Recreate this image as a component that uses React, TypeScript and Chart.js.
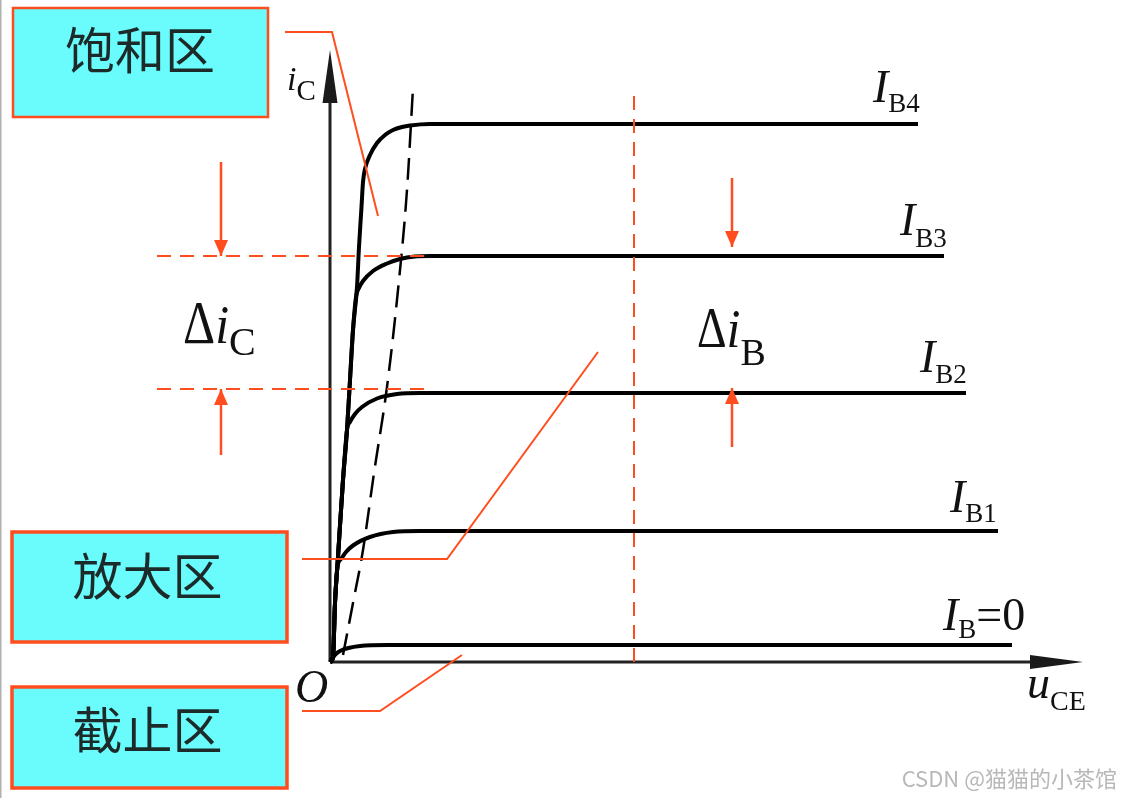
import React, { useEffect, useRef } from "react";
import { Chart, registerables } from "chart.js";
Chart.register(...registerables);

// ---- axis extents (uCE, iC in arbitrary units) ----
const X_MIN = -6.6;
const X_MAX = 15.84;
const Y_MIN = -2.72;
const Y_MAX = 13.24;

// ---- output characteristic curves [uCE, iC] ----
const IB4: number[][] = [
  [0, 0], [0.06, 0.1], [0.1, 1.18], [0.16, 2.1], [0.26, 3.64], [0.34, 4.64], [0.4, 5.64],
  [0.46, 6.64], [0.54, 7.5], [0.58, 8.3], [0.63, 9.1], [0.66, 9.6], [0.7, 9.86],
  [0.8, 10.14], [0.94, 10.38], [1.1, 10.54], [1.26, 10.64], [1.44, 10.7], [1.6, 10.73],
  [2.0, 10.76], [11.76, 10.76],
];
const IB3: number[][] = [
  [0, 0], [0.06, 0.1], [0.1, 1.18], [0.16, 2.1], [0.26, 3.64], [0.34, 4.64], [0.4, 5.64],
  [0.46, 6.64], [0.52, 7.3], [0.58, 7.48], [0.66, 7.62], [0.86, 7.82], [1.14, 7.97],
  [1.4, 8.06], [1.7, 8.11], [2.0, 8.12], [12.28, 8.12],
];
const IB2: number[][] = [
  [0, 0], [0.06, 0.1], [0.1, 1.18], [0.16, 2.1], [0.26, 3.64], [0.34, 4.64], [0.4, 4.8],
  [0.5, 4.96], [0.64, 5.1], [0.94, 5.27], [1.34, 5.36], [1.8, 5.38], [12.72, 5.38],
];
const IB1: number[][] = [
  [0, 0], [0.06, 0.1], [0.1, 1.18], [0.15, 1.9], [0.22, 2.06], [0.32, 2.2], [0.46, 2.33],
  [0.8, 2.5], [1.26, 2.6], [1.8, 2.62], [13.36, 2.62],
];
const IB0: number[][] = [[0, 0], [0.1, 0.14], [0.2, 0.22], [0.6, 0.32], [1.14, 0.34], [13.64, 0.34]];
const CURVES = [IB4, IB3, IB2, IB1, IB0];

// saturation boundary (uCE = uBE) dashed line
const BOUNDARY: number[][] = [
  [0.26, 0.14], [0.46, 1.18], [0.66, 2.24], [0.88, 3.78], [1.14, 5.5], [1.36, 7.44],
  [1.54, 9.44], [1.66, 11.48],
];

// curve labels: [main, subscript, tail]
const CURVE_LABEL_TEXT = [["I", "B4", ""], ["I", "B3", ""], ["I", "B2", ""], ["I", "B1", ""], ["I", "B", "=0"]];
const CURVE_LABEL_X = [10.86, 11.4, 11.8, 12.4, 12.26];
const CURVE_LABEL_Y = [11.2, 8.54, 5.8, 3.0, 0.64];
const CURVE_LABEL_SUB_Y = [11.0, 8.3, 5.58, 2.8, 0.48];

// Δ levels
const DELTA_IC_LEVELS = [8.12, 5.46];
const DELTA_IC_X_RANGE = [-3.46, 1.96];
const DELTA_IB_X = 6.08;
const DELTA_IB_Y_RANGE = [0, 11.48];
const RED_ARROW_X = [-2.18, -2.18, 8.04, 8.04];
const RED_ARROW_FROM = [10.0, 4.14, 9.68, 4.3];
const RED_ARROW_TO = [8.12, 5.46, 8.3, 5.48];

// region boxes
const REGION_NAMES = ["饱和区", "放大区", "截止区"];
const REGION_X0 = [-6.34, -6.36, -6.36];
const REGION_X1 = [-1.24, -0.86, -0.86];
const REGION_Y0 = [13.08, 2.6, -0.5];
const REGION_Y1 = [10.9, 0.4, -2.52];
const REGION_TEXT_X = [-3.8, -3.65, -3.65];
const REGION_TEXT_Y = [12.25, 1.73, -1.35];
const REGION_LEADERS: number[][][] = [
  [[-0.9, 12.6], [0.04, 12.6], [0.96, 8.92]],
  [[-0.56, 2.06], [2.34, 2.06], [5.36, 6.2]],
  [[-0.56, -0.98], [1.0, -0.98], [2.64, 0.14]],
];

const AXIS_Y_TIP = 12.24;
const AXIS_X_TIP = 15.06;

const RED = "#ff4d1f";
const SERIF = '"Liberation Serif", "DejaVu Serif", serif';
const CJK = '"Noto Sans CJK SC", sans-serif';

const pts = (a: number[][]) => a.map(([x, y]) => ({ x, y }));

const annotPlugin = {
  id: "annot",
  beforeDatasetsDraw(chart: any) {
    const ctx = chart.ctx as CanvasRenderingContext2D;
    const X = (v: number) => chart.scales.x.getPixelForValue(v);
    const Y = (v: number) => chart.scales.y.getPixelForValue(v);
    ctx.save();
    // thin page border at left
    ctx.strokeStyle = "#b0b0b0";
    ctx.lineWidth = 1.5;
    ctx.beginPath();
    ctx.moveTo(X(X_MIN) + 0.75, Y(Y_MAX));
    ctx.lineTo(X(X_MIN) + 0.75, Y(Y_MIN));
    ctx.stroke();
    // region boxes
    REGION_NAMES.forEach((name, i) => {
      const x0 = X(REGION_X0[i]), x1 = X(REGION_X1[i]);
      const y0 = Y(REGION_Y0[i]), y1 = Y(REGION_Y1[i]);
      ctx.fillStyle = "#6afcfc";
      ctx.fillRect(x0, y0, x1 - x0, y1 - y0);
      ctx.strokeStyle = RED;
      ctx.lineWidth = i === 0 ? 2.5 : 3.5;
      ctx.strokeRect(x0, y0, x1 - x0, y1 - y0);
      ctx.fillStyle = "#1c2a2a";
      ctx.font = `50px ${CJK}`;
      ctx.textAlign = "center";
      ctx.textBaseline = "middle";
      ctx.fillText(name, X(REGION_TEXT_X[i]), Y(REGION_TEXT_Y[i]));
    });
    ctx.restore();
  },
  afterDatasetsDraw(chart: any) {
    const ctx = chart.ctx as CanvasRenderingContext2D;
    const X = (v: number) => chart.scales.x.getPixelForValue(v);
    const Y = (v: number) => chart.scales.y.getPixelForValue(v);
    const head = (tx: number, ty: number, dx: number, dy: number, len: number, half: number, color: string) => {
      const nx = -dy, ny = dx;
      ctx.fillStyle = color;
      ctx.beginPath();
      ctx.moveTo(tx, ty);
      ctx.lineTo(tx - dx * len + nx * half, ty - dy * len + ny * half);
      ctx.lineTo(tx - dx * len - nx * half, ty - dy * len - ny * half);
      ctx.closePath();
      ctx.fill();
    };
    ctx.save();
    // axis arrowheads
    head(X(0), Y(AXIS_Y_TIP), 0, -1, 53, 7.5, "#1a1a1a");
    head(X(AXIS_X_TIP), Y(0), 1, 0, 53, 7, "#1a1a1a");
    // red arrowheads
    RED_ARROW_X.forEach((ax, i) => {
      const dir = RED_ARROW_TO[i] < RED_ARROW_FROM[i] ? 1 : -1;
      head(X(ax), Y(RED_ARROW_TO[i]), 0, dir, 16, 7, RED);
    });

    type Part = { t: string; font: string; y: number; sy?: number };
    const group = (x: number, parts: Part[]) => {
      let cx = x;
      for (const p of parts) {
        ctx.font = p.font;
        const w = ctx.measureText(p.t).width;
        ctx.save();
        ctx.translate(cx, p.y);
        ctx.scale(1, p.sy || 1);
        ctx.fillText(p.t, 0, 0);
        ctx.restore();
        cx += w;
      }
    };
    ctx.fillStyle = "#111";
    ctx.textAlign = "left";
    ctx.textBaseline = "alphabetic";
    // curve labels
    CURVE_LABEL_TEXT.forEach(([m, s, tail], i) => {
      const parts: Part[] = [
        { t: m, font: `italic 46px ${SERIF}`, y: Y(CURVE_LABEL_Y[i]) },
        { t: s, font: `27px ${SERIF}`, y: Y(CURVE_LABEL_SUB_Y[i]) },
      ];
      if (tail) parts.push({ t: tail, font: `46px ${SERIF}`, y: Y(CURVE_LABEL_Y[i]) });
      group(X(CURVE_LABEL_X[i]), parts);
    });
    // axis labels
    group(X(-0.86), [
      { t: "i", font: `italic 34px ${SERIF}`, y: Y(11.44) },
      { t: "C", font: `29px ${SERIF}`, y: Y(11.24) },
    ]);
    group(X(13.94), [
      { t: "u", font: `italic 46px ${SERIF}`, y: Y(-0.72) },
      { t: "CE", font: `28px ${SERIF}`, y: Y(-0.96) },
    ]);
    group(X(-0.7), [{ t: "O", font: `italic 46px ${SERIF}`, y: Y(-0.8) }]);
    // delta labels
    group(X(-2.94), [
      { t: "Δ", font: `50px ${SERIF}`, y: Y(6.38), sy: 1.22 },
      { t: "i", font: `italic 50px ${SERIF}`, y: Y(6.38), sy: 1.1 },
      { t: "C", font: `40px ${SERIF}`, y: Y(6.14) },
    ]);
    group(X(7.34), [
      { t: "Δ", font: `46px ${SERIF}`, y: Y(6.3), sy: 1.25 },
      { t: "i", font: `italic 50px ${SERIF}`, y: Y(6.3), sy: 1.1 },
      { t: "B", font: `38px ${SERIF}`, y: Y(5.94) },
    ]);
    // watermark
    ctx.fillStyle = "#b8b8b8";
    ctx.font = `22px ${CJK}`;
    ctx.textAlign = "right";
    ctx.fillText("CSDN @猫猫的小茶馆", X(15.74), Y(-2.5));
    ctx.restore();
  },
};

export default function App() {
  const ref = useRef<HTMLCanvasElement | null>(null);
  useEffect(() => {
    if (!ref.current) return;
    const curveSets = CURVES.map((c) => ({
      data: pts(c),
      borderColor: "#000",
      borderWidth: 4,
      borderJoinStyle: "round" as const,
      cubicInterpolationMode: "monotone" as const,
      pointRadius: 0,
      order: 3,
    }));
    const red = (data: number[][], dash: number[] = [], w = 2) => ({
      data: pts(data),
      borderColor: RED,
      borderWidth: w,
      borderDash: dash,
      tension: 0,
      pointRadius: 0,
      order: 1,
    });
    const datasets: any[] = [
      ...curveSets,
      {
        data: pts([[0, 0], [0, AXIS_Y_TIP - 1.0]]),
        borderColor: "#222", borderWidth: 3, tension: 0, pointRadius: 0, order: 4,
      },
      {
        data: pts([[0, 0], [AXIS_X_TIP - 1.0, 0]]),
        borderColor: "#222", borderWidth: 3, tension: 0, pointRadius: 0, order: 4,
      },
      {
        data: pts(BOUNDARY),
        borderColor: "#000", borderWidth: 2.5, borderDash: [22, 10],
        cubicInterpolationMode: "monotone", pointRadius: 0, order: 2,
      },
      ...DELTA_IC_LEVELS.map((lv) => red([[DELTA_IC_X_RANGE[0], lv], [DELTA_IC_X_RANGE[1], lv]], [14, 9])),
      red([[DELTA_IB_X, DELTA_IB_Y_RANGE[0]], [DELTA_IB_X, DELTA_IB_Y_RANGE[1]]], [14, 9]),
      ...RED_ARROW_X.map((ax, i) => red([[ax, RED_ARROW_FROM[i]], [ax, RED_ARROW_TO[i]]], [], 2.5)),
      ...REGION_LEADERS.map((l) => red(l, [], 2)),
    ];
    const chart = new Chart(ref.current, {
      type: "line",
      data: { datasets },
      options: {
        animation: false,
        responsive: false,
        devicePixelRatio: 1,
        layout: { padding: 0 },
        scales: {
          x: { type: "linear", min: X_MIN, max: X_MAX, display: false },
          y: { type: "linear", min: Y_MIN, max: Y_MAX, display: false },
        },
        plugins: { legend: { display: false }, tooltip: { enabled: false } },
        elements: { point: { radius: 0 } },
      },
      plugins: [annotPlugin],
    });
    return () => chart.destroy();
  }, []);
  return (
    <div style={{ position: "absolute", left: 0, top: 0, width: 1122, height: 798, background: "#fff" }}>
      <canvas ref={ref} width={1122} height={798} />
    </div>
  );
}
